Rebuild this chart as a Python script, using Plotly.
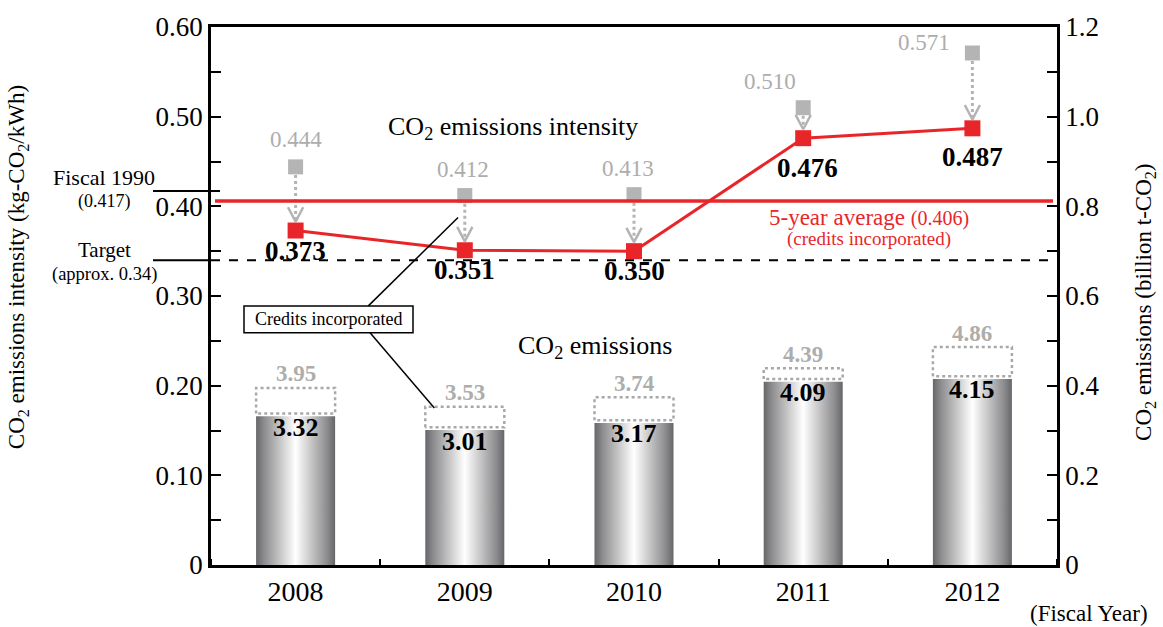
import plotly.graph_objects as go

# ---------------- data ----------------
years = [2008, 2009, 2010, 2011, 2012]
intensity_credits = [0.373, 0.351, 0.350, 0.476, 0.487]      # kg-CO2/kWh (credits incorporated)
intensity_raw = [0.444, 0.412, 0.413, 0.510, 0.571]           # before credits
emissions_credits = [3.32, 3.01, 3.17, 4.09, 4.15]            # 100 million t-CO2 (credits incorporated)
emissions_raw = [3.95, 3.53, 3.74, 4.39, 4.86]                # before credits
fiscal_1990 = 0.417
target = 0.34
five_year_avg = 0.406

left_tickvals = [0, 0.1, 0.2, 0.3, 0.4, 0.5, 0.6]
left_ticktext = ["0", "0.10", "0.20", "0.30", "0.40", "0.50", "0.60"]
right_tickvals = [0, 0.2, 0.4, 0.6, 0.8, 1.0, 1.2]
right_ticktext = ["0", "0.2", "0.4", "0.6", "0.8", "1.0", "1.2"]
year_labels = ["2008", "2009", "2010", "2011", "2012"]

# ---------------- style ----------------
FONT = "Liberation Serif"
RED = "#e8262a"
GRAY = "#b4b4b4"
GRAYTXT = "#adadad"
BAR_W = 0.467
UNIT = 10.0  # 100 million t -> billion t
bar_scale = [[0.0, "#66666a"], [0.1, "#8c8c8e"], [0.5, "#ffffff"], [0.9, "#8c8c8e"], [1.0, "#66666a"]]


def px_x(p):  # pixel -> paper x
    return (p - 211) / 846


def px_y(p):  # pixel -> paper y
    return (565 - p) / 542


fig = go.Figure()

# bars (gradient) on right axis
for yr, v in zip(years, emissions_credits):
    h = v / UNIT
    fig.add_trace(go.Scatter(
        x=[yr - BAR_W / 2, yr - BAR_W / 2, yr + BAR_W / 2, yr + BAR_W / 2, yr - BAR_W / 2],
        y=[0, h, h, 0, 0], yaxis="y2", mode="lines", line=dict(width=0),
        fill="toself",
        fillgradient=dict(type="horizontal", colorscale=bar_scale,
                          start=yr - BAR_W / 2, stop=yr + BAR_W / 2),
        hoverinfo="skip", showlegend=False))

# dotted boxes (before credits)
for yr, lo, hi in zip(years, emissions_credits, emissions_raw):
    a, b = lo / UNIT + 0.006, hi / UNIT
    fig.add_trace(go.Scatter(
        x=[yr - BAR_W / 2, yr - BAR_W / 2, yr + BAR_W / 2, yr + BAR_W / 2, yr - BAR_W / 2],
        y=[a, b, b, a, a], yaxis="y2", mode="lines",
        line=dict(color="#a8a8a8", width=2.5, dash="dot"),
        hoverinfo="skip", showlegend=False))

# dotted arrows gray -> red
ax_x, ax_y, cv_x, cv_y = [], [], [], []
for yr, g, r in zip(years, intensity_raw, intensity_credits):
    tip = r + 0.010
    ax_x += [yr, yr, None]
    ax_y += [g - 0.009, tip + 0.002, None]
    cv_x += [yr - 0.045, yr, yr + 0.045, None]
    cv_y += [tip + 0.016, tip, tip + 0.016, None]
fig.add_trace(go.Scatter(x=ax_x, y=ax_y, mode="lines",
                         line=dict(color=GRAY, width=3, dash="dot"),
                         hoverinfo="skip", showlegend=False))
fig.add_trace(go.Scatter(x=cv_x, y=cv_y, mode="lines",
                         line=dict(color=GRAY, width=2.5),
                         hoverinfo="skip", showlegend=False))

# gray squares (before credits)
fig.add_trace(go.Scatter(x=years, y=intensity_raw, mode="markers",
                         marker=dict(symbol="square", size=15, color=GRAY),
                         hoverinfo="skip", showlegend=False))
# red intensity line
fig.add_trace(go.Scatter(x=years, y=intensity_credits, mode="lines+markers",
                         line=dict(color=RED, width=3),
                         marker=dict(symbol="square", size=16, color=RED),
                         hoverinfo="skip", showlegend=False))

# ---------------- annotations ----------------
C = dict(showarrow=False, xanchor="center", yanchor="middle")
ann = []
red_off = [(0, -20), (0, -20), (0, -20), (4, -30), (0, -29)]
gray_off = [(0, 27), (-2, 26), (-6, 26), (-33, 26), (-48, 11)]
for yr, r, g, (dx, dy), (gx, gy) in zip(years, intensity_credits, intensity_raw, red_off, gray_off):
    ann.append(dict(x=yr, y=r, xref="x", yref="y", text=f"{r:.3f}", xshift=dx, yshift=dy,
                    font=dict(family=FONT, size=27, color="black", weight="bold"), **C))
    ann.append(dict(x=yr, y=g, xref="x", yref="y", text=f"{g:.3f}", xshift=gx, yshift=gy,
                    font=dict(family=FONT, size=23, color=GRAYTXT), **C))
for yr, lo, hi in zip(years, emissions_credits, emissions_raw):
    ann.append(dict(x=yr, y=lo / UNIT, xref="x", yref="y2", text=f"{lo:.2f}", yshift=-11,
                    font=dict(family=FONT, size=26, color="black", weight="bold"), **C))
    ann.append(dict(x=yr, y=hi / UNIT, xref="x", yref="y2", text=f"{hi:.2f}", yshift=14,
                    font=dict(family=FONT, size=23, color=GRAYTXT, weight="bold"), **C))

ann += [
    dict(x=px_x(104), y=fiscal_1990, xref="paper", yref="y", text="Fiscal 1990", yshift=14,
         font=dict(family=FONT, size=22, color="black"), **C),
    dict(x=px_x(104), y=fiscal_1990, xref="paper", yref="y", text="(0.417)", yshift=-10,
         font=dict(family=FONT, size=18, color="black"), **C),
    dict(x=px_x(104), y=target, xref="paper", yref="y", text="Target", yshift=10,
         font=dict(family=FONT, size=21, color="black"), **C),
    dict(x=px_x(104), y=target, xref="paper", yref="y", text="(approx. 0.34)", yshift=-14,
         font=dict(family=FONT, size=18.5, color="black"), **C),
    dict(x=px_x(869), y=five_year_avg, xref="paper", yref="y", yshift=-27,
         text="<span style='font-size:23px'>5-year average </span><span style='font-size:20px'>(0.406)</span>"
              "<br><span style='font-size:19px'>(credits incorporated)</span>",
         font=dict(family=FONT, size=15, color=RED), **C),
    dict(x=px_x(513), y=px_y(125), xref="paper", yref="paper",
         text="CO<sub>2</sub> emissions intensity", font=dict(family=FONT, size=26, color="black"), **C),
    dict(x=px_x(595), y=px_y(345), xref="paper", yref="paper",
         text="CO<sub>2</sub> emissions", font=dict(family=FONT, size=26, color="black"), **C),
    dict(x=px_x(328.5), y=px_y(317.5), xref="paper", yref="paper",
         text="Credits incorporated", font=dict(family=FONT, size=18, color="black"), **C),
    dict(x=px_x(18), y=px_y(265), xref="paper", yref="paper", textangle=-90,
         text="CO<sub>2</sub> emissions intensity (kg-CO<sub>2</sub>/kWh)",
         font=dict(family=FONT, size=23, color="black"), **C),
    dict(x=px_x(1145), y=px_y(301), xref="paper", yref="paper", textangle=-90,
         text="CO<sub>2</sub> emissions (billion t-CO<sub>2</sub>)",
         font=dict(family=FONT, size=23, color="black"), **C),
    dict(x=px_x(1089), y=px_y(614), xref="paper", yref="paper",
         text="(Fiscal Year)", font=dict(family=FONT, size=23, color="black"), **C),
]

# ---------------- shapes ----------------
shapes = [
    dict(type="line", xref="paper", yref="y", x0=px_x(153), x1=px_x(220), y0=fiscal_1990, y1=fiscal_1990,
         line=dict(color="black", width=2)),
    dict(type="line", xref="paper", yref="y", x0=px_x(153), x1=0.0, y0=target, y1=target,
         line=dict(color="black", width=2)),
    dict(type="line", xref="paper", yref="y", x0=0.0, x1=1.0, y0=target, y1=target,
         line=dict(color="black", width=2, dash="dash")),
    dict(type="line", xref="paper", yref="y", x0=px_x(215), x1=px_x(1053), y0=five_year_avg, y1=five_year_avg,
         line=dict(color=RED, width=3.5)),
    dict(type="rect", xref="paper", yref="paper", x0=px_x(244), x1=px_x(413),
         y0=px_y(331), y1=px_y(304), line=dict(color="black", width=1.5),
         fillcolor="white", layer="below"),
    dict(type="line", xref="x", yref="y", x0=2008.43, y0=0.289, x1=2008.96, y1=0.3875,
         line=dict(color="black", width=1.5)),
    dict(type="line", xref="x", yref="y", x0=2008.44, y0=0.259, x1=2008.82, y1=0.175,
         line=dict(color="black", width=1.5)),
]

fig.update_layout(
    width=1163, height=627,
    margin=dict(l=211, r=106, t=23, b=62),
    paper_bgcolor="white", plot_bgcolor="white",
    showlegend=False,
    font=dict(family=FONT, color="black"),
    xaxis=dict(range=[2007.5, 2012.5], tickvals=years, ticktext=year_labels,
               ticks="", showline=True, linecolor="black", linewidth=2.5, mirror=True,
               showgrid=False, zeroline=False, tickfont=dict(family=FONT, size=28),
               minor=dict(tick0=2007.5, dtick=1, ticks="inside", ticklen=6,
                          tickcolor="black", tickwidth=2)),
    yaxis=dict(range=[0, 0.6], tickvals=left_tickvals, ticktext=left_ticktext,
               ticks="inside", ticklen=10, tickwidth=2, tickcolor="black",
               showline=True, linecolor="black", linewidth=2.5,
               showgrid=False, zeroline=False, tickfont=dict(family=FONT, size=27),
               minor=dict(dtick=0.05, ticks="inside", ticklen=10, tickwidth=2, tickcolor="black")),
    yaxis2=dict(range=[0, 1.2], overlaying="y", side="right",
                tickvals=right_tickvals, ticktext=right_ticktext,
                ticks="inside", ticklen=10, tickwidth=2, tickcolor="black",
                showline=True, linecolor="black", linewidth=2.5,
                showgrid=False, zeroline=False, tickfont=dict(family=FONT, size=27),
                minor=dict(dtick=0.1, ticks="inside", ticklen=10, tickwidth=2, tickcolor="black")),
    annotations=ann,
    shapes=shapes,
)

fig.write_html("out.html", config={"displayModeBar": False},
               post_script="document.body.style.margin='0';document.body.style.overflow='hidden';")
